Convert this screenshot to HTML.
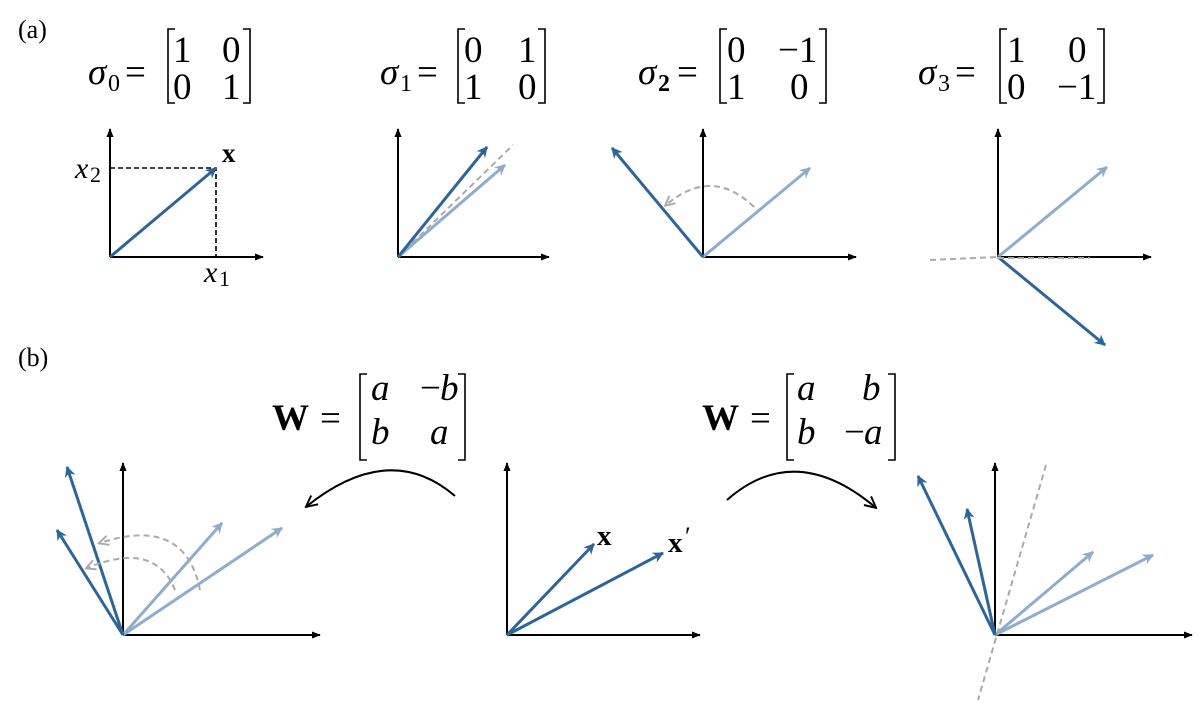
<!DOCTYPE html>
<html><head><meta charset="utf-8"><style>
html,body{margin:0;padding:0;background:#fff;}
svg text{font-family:"Liberation Serif",serif;}
.it{font-style:italic}
</style></head><body>
<svg width="1200" height="700" viewBox="0 0 1200 700" xmlns="http://www.w3.org/2000/svg">
<defs>
<marker id="ak" viewBox="0 0 10 10" refX="9" refY="5" markerWidth="9" markerHeight="9" markerUnits="userSpaceOnUse" orient="auto"><path d="M0,1 L10,5 L0,9 Z" fill="#000"/></marker>
<marker id="ad" viewBox="0 0 10 10" refX="9" refY="5" markerWidth="11" markerHeight="11" markerUnits="userSpaceOnUse" orient="auto"><path d="M0,0 L10,5 L0,10 L3,5 Z" fill="#2e6598"/></marker>
<marker id="al" viewBox="0 0 10 10" refX="9" refY="5" markerWidth="11" markerHeight="11" markerUnits="userSpaceOnUse" orient="auto"><path d="M0,0 L10,5 L0,10 L3,5 Z" fill="#8eaccc"/></marker>
<marker id="ag" viewBox="0 0 10 10" refX="8" refY="5" markerWidth="12" markerHeight="12" markerUnits="userSpaceOnUse" orient="auto"><path d="M1,1 L9,5 L1,9" fill="none" stroke="#aaa" stroke-width="1.6"/></marker>
<marker id="ab" viewBox="0 0 10 10" refX="8" refY="5" markerWidth="14" markerHeight="14" markerUnits="userSpaceOnUse" orient="auto"><path d="M1,1 L9,5 L1,9" fill="none" stroke="#000" stroke-width="1.4"/></marker>
</defs>
<g font-size="26"><text x="18" y="38">(a)</text><text x="18" y="366">(b)</text></g>

<!-- matrices top -->
<g font-size="37">
<text x="88" y="84" class="it">σ</text><text x="108" y="91" font-size="24">0</text><text x="125" y="84">=</text>
<text x="173" y="62">1</text><text x="222" y="62">0</text><text x="173" y="99">0</text><text x="222" y="99">1</text>
<text x="380" y="84" class="it">σ</text><text x="400" y="91" font-size="24">1</text><text x="417" y="84">=</text>
<text x="464" y="62">0</text><text x="518" y="62">1</text><text x="464" y="99">1</text><text x="518" y="99">0</text>
<text x="638" y="84" class="it">σ</text><text x="658" y="91" font-size="24" font-weight="bold">2</text><text x="677" y="84">=</text>
<text x="727" y="62">0</text><text x="778" y="62">−1</text><text x="727" y="99">1</text><text x="790" y="99">0</text>
<text x="918" y="84" class="it">σ</text><text x="938" y="91" font-size="24">3</text><text x="955" y="84">=</text>
<text x="1007" y="62">1</text><text x="1068" y="62">0</text><text x="1007" y="99">0</text><text x="1057" y="99">−1</text>
</g>
<g fill="none" stroke="#000" stroke-width="1.6">
<path d="M175,29 H168 V103 H175"/><path d="M243,29 H250 V103 H243"/>
<path d="M465,29 H458 V103 H465"/><path d="M538,29 H545 V103 H538"/>
<path d="M727,29 H720 V103 H727"/><path d="M819,29 H826 V103 H819"/>
<path d="M1007,29 H1000 V103 H1007"/><path d="M1097,29 H1104 V103 H1097"/>
<path d="M367,374 H360 V460 H367"/><path d="M458,374 H465 V460 H458"/>
<path d="M794,374 H787 V460 H794"/><path d="M888,374 H895 V460 H888"/>
</g>
<g font-size="37">
<text x="272" y="430" font-weight="bold">W</text><text x="320" y="430">=</text>
<text x="371" y="400" class="it">a</text><text x="420" y="400">−</text><text x="440" y="400" class="it">b</text>
<text x="371" y="444" class="it">b</text><text x="430" y="444" class="it">a</text>
<text x="702" y="430" font-weight="bold">W</text><text x="750" y="430">=</text>
<text x="797" y="400" class="it">a</text><text x="862" y="400" class="it">b</text>
<text x="797" y="444" class="it">b</text><text x="844" y="444">−</text><text x="864" y="444" class="it">a</text>
</g>

<!-- axes -->
<g stroke="#000" stroke-width="2" marker-end="url(#ak)">
<line x1="110" y1="257" x2="110" y2="129"/><line x1="110" y1="257" x2="263" y2="257"/>
<line x1="398" y1="257" x2="398" y2="129"/><line x1="398" y1="257" x2="549" y2="257"/>
<line x1="703" y1="257" x2="703" y2="129"/><line x1="703" y1="257" x2="856" y2="257"/>
<line x1="998" y1="257" x2="998" y2="129"/><line x1="998" y1="257" x2="1151" y2="257"/>
<line x1="123" y1="635" x2="123" y2="463"/><line x1="123" y1="635" x2="320" y2="635"/>
<line x1="507" y1="635" x2="507" y2="463"/><line x1="507" y1="635" x2="700" y2="635"/>
<line x1="995" y1="635" x2="995" y2="463"/><line x1="995" y1="635" x2="1192" y2="635"/>
</g>

<!-- a1 -->
<g stroke="#000" stroke-width="1.6" stroke-dasharray="5,3" fill="none"><path d="M110,168 H216 V257"/></g>
<line x1="110" y1="257" x2="216" y2="168" stroke="#2e6598" stroke-width="3" marker-end="url(#ad)"/>
<text x="222" y="162" font-size="27" font-weight="bold">x</text>
<text x="75" y="178" font-size="30" class="it">x</text><text x="90" y="182" font-size="22">2</text>
<text x="204" y="282" font-size="30" class="it">x</text><text x="219" y="286" font-size="22">1</text>

<!-- a2 -->
<line x1="398" y1="257" x2="513" y2="145" stroke="#aaa" stroke-width="2" stroke-dasharray="6,4"/>
<line x1="398" y1="257" x2="505" y2="165" stroke="#8eaccc" stroke-width="3" marker-end="url(#al)"/>
<line x1="398" y1="257" x2="487" y2="147" stroke="#2e6598" stroke-width="3" marker-end="url(#ad)"/>

<!-- a3 -->
<line x1="703" y1="257" x2="810" y2="168" stroke="#8eaccc" stroke-width="3" marker-end="url(#al)"/>
<line x1="703" y1="257" x2="612" y2="148" stroke="#2e6598" stroke-width="3" marker-end="url(#ad)"/>
<path d="M754,207 Q712,166 666,205" fill="none" stroke="#aaa" stroke-width="2" stroke-dasharray="6,4" marker-end="url(#ag)"/>

<!-- a4 -->
<line x1="998" y1="257" x2="1107" y2="167" stroke="#8eaccc" stroke-width="3" marker-end="url(#al)"/>
<line x1="998" y1="257" x2="1105" y2="345" stroke="#2e6598" stroke-width="3" marker-end="url(#ad)"/>
<line x1="930" y1="260" x2="998" y2="257" stroke="#aaa" stroke-width="2" stroke-dasharray="6,4"/>
<line x1="998" y1="258" x2="1090" y2="258" stroke="#aaa" stroke-width="2" stroke-dasharray="6,4"/>

<!-- b left -->
<line x1="123" y1="635" x2="222" y2="523" stroke="#8eaccc" stroke-width="3" marker-end="url(#al)"/>
<line x1="123" y1="635" x2="282" y2="528" stroke="#8eaccc" stroke-width="3" marker-end="url(#al)"/>
<line x1="123" y1="635" x2="67" y2="467" stroke="#2e6598" stroke-width="3" marker-end="url(#ad)"/>
<line x1="123" y1="635" x2="57" y2="530" stroke="#2e6598" stroke-width="3" marker-end="url(#ad)"/>
<path d="M200,590 Q185,515 100,543" fill="none" stroke="#aaa" stroke-width="2" stroke-dasharray="6,4" marker-end="url(#ag)"/>
<path d="M175,590 Q155,540 87,568" fill="none" stroke="#aaa" stroke-width="2" stroke-dasharray="6,4" marker-end="url(#ag)"/>
<path d="M455,496 Q390,440 307,506" fill="none" stroke="#000" stroke-width="2" marker-end="url(#ab)"/>

<!-- b mid -->
<line x1="507" y1="635" x2="594" y2="544" stroke="#2e6598" stroke-width="3" marker-end="url(#ad)"/>
<line x1="507" y1="635" x2="663" y2="553" stroke="#2e6598" stroke-width="3" marker-end="url(#ad)"/>
<text x="597" y="545" font-size="29" font-weight="bold">x</text>
<text x="668" y="552" font-size="29" font-weight="bold">x</text><text x="685" y="545" font-size="26">′</text>
<path d="M727,500 Q795,440 875,507" fill="none" stroke="#000" stroke-width="2" marker-end="url(#ab)"/>

<!-- b right -->
<line x1="1046" y1="465" x2="978" y2="700" stroke="#aaa" stroke-width="2" stroke-dasharray="6,4"/>
<line x1="995" y1="635" x2="1093" y2="552" stroke="#8eaccc" stroke-width="3" marker-end="url(#al)"/>
<line x1="995" y1="635" x2="1153" y2="555" stroke="#8eaccc" stroke-width="3" marker-end="url(#al)"/>
<line x1="995" y1="635" x2="918" y2="476" stroke="#2e6598" stroke-width="3" marker-end="url(#ad)"/>
<line x1="995" y1="635" x2="967" y2="509" stroke="#2e6598" stroke-width="3" marker-end="url(#ad)"/>
</svg>
</body></html>
